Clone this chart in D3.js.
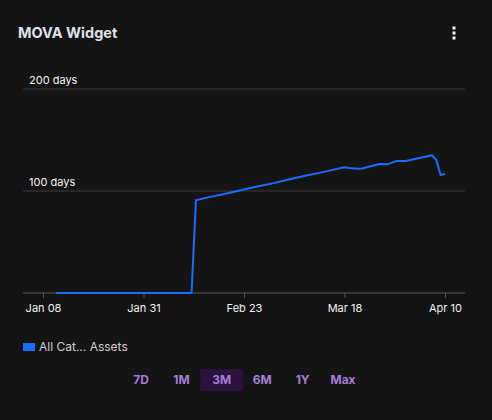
<!DOCTYPE html>
<html>
<head>
<meta charset="utf-8">
<script src="https://cdn.jsdelivr.net/npm/d3@7"></script>
<style>
  html, body { margin: 0; padding: 0; background: #141414; }
  body { width: 492px; height: 420px; overflow: hidden; font-family: Inter, "Noto Sans", sans-serif; }
</style>
</head>
<body>
<svg id="chart" width="492" height="420"></svg>
<script>
// series: "All Cat... Assets" (days)
const dates = [
  "2025-01-11", "2025-02-11", "2025-02-12", "2025-02-15", "2025-02-19", "2025-02-22",
  "2025-02-26", "2025-03-01", "2025-03-05", "2025-03-09", "2025-03-13", "2025-03-18",
  "2025-03-19", "2025-03-21", "2025-03-22", "2025-03-26", "2025-03-28", "2025-03-30",
  "2025-04-01", "2025-04-07", "2025-04-08", "2025-04-09", "2025-04-10"
];
const values = [
  0, 0, 91, 94, 97.5, 100.5,
  104.5, 107, 111, 115, 118.5, 123.2,
  122.5, 121.8, 122, 126.5, 126.3, 129.5,
  129.4, 135, 130.5, 115.7, 116.7
];
const xTicks = ["2025-01-08", "2025-01-31", "2025-02-23", "2025-03-18", "2025-04-10"];
const yTicks = [100, 200];
const ranges = ["7D", "1M", "3M", "6M", "1Y", "Max"];
const activeRange = "3M";
const seriesName = "All Cat... Assets";

const parse = d3.utcParse("%Y-%m-%d");
const data = dates.map((d, i) => ({ date: parse(d), value: values[i] }));

const svg = d3.select("#chart");

/* header */
svg.append("text")
  .attr("x", 18).attr("y", 38)
  .attr("fill", "#dde2ea")
  .attr("font-size", 14.5).attr("font-weight", 700)
  .text("MOVA Widget");

svg.append("g").selectAll("rect")
  .data([28, 33, 38])
  .join("rect")
  .attr("x", 452.5).attr("y", (d) => d - 1.5)
  .attr("width", 3).attr("height", 3)
  .attr("fill", "#f2f2f2");

/* scales */
const plotLeft = 23, plotRight = 465;
const x = d3.scaleUtc()
  .domain([parse(xTicks[0]), parse(xTicks[xTicks.length - 1])])
  .range([43, 445]);
const y = d3.scaleLinear().domain([0, 200]).range([293, 89]);

/* grid lines */
svg.append("g").selectAll("line")
  .data(yTicks)
  .join("line")
  .attr("x1", plotLeft).attr("x2", plotRight)
  .attr("y1", (d) => y(d)).attr("y2", (d) => y(d))
  .attr("stroke", "#383838").attr("stroke-width", 1);

svg.append("g").selectAll("text")
  .data(yTicks)
  .join("text")
  .attr("x", 29).attr("y", (d) => y(d) - 5.5)
  .attr("fill", "#f2f2f2")
  .attr("font-size", 11)
  .text((d) => d + " days");

/* x axis */
const xAxis = d3.axisBottom(x)
  .tickValues(xTicks.map(parse))
  .tickFormat(d3.utcFormat("%b %d"))
  .tickSize(5)
  .tickSizeOuter(0)
  .tickPadding(6);

const xAxisG = svg.append("g")
  .attr("transform", `translate(0, ${y(0)})`)
  .call(xAxis);
xAxisG.select(".domain").remove();
xAxisG.selectAll(".tick line").attr("stroke", "#555");
xAxisG.selectAll(".tick text")
  .attr("fill", "#f2f2f2")
  .attr("font-size", 11)
  .attr("font-family", "Inter, 'Noto Sans', sans-serif");

svg.append("line")
  .attr("x1", plotLeft).attr("x2", plotRight)
  .attr("y1", y(0)).attr("y2", y(0))
  .attr("stroke", "#555").attr("stroke-width", 1);

/* series line */
const line = d3.line()
  .x((d) => x(d.date))
  .y((d) => y(d.value));

svg.append("path")
  .datum(data)
  .attr("fill", "none")
  .attr("stroke", "#1a6dff")
  .attr("stroke-width", 2)
  .attr("stroke-linejoin", "round")
  .attr("d", line);

/* legend */
svg.append("rect")
  .attr("x", 23).attr("y", 343)
  .attr("width", 12).attr("height", 8)
  .attr("fill", "#1a6dff");
svg.append("text")
  .attr("x", 39).attr("y", 350.5)
  .attr("fill", "#d0d0d0")
  .attr("font-size", 12)
  .text(seriesName);

/* range buttons */
const btnCenters = d3.scalePoint()
  .domain(ranges)
  .range([141, 343]);

const btn = svg.append("g").selectAll("g")
  .data(ranges)
  .join("g")
  .attr("transform", (d) => `translate(${btnCenters(d)}, 380)`);

btn.filter((d) => d === activeRange)
  .append("rect")
  .attr("x", -21.5).attr("y", -11)
  .attr("width", 43).attr("height", 22)
  .attr("fill", "#2d1240");

btn.append("text")
  .attr("text-anchor", "middle")
  .attr("dy", "0.35em")
  .attr("fill", "#a47ed8")
  .attr("font-size", 12).attr("font-weight", 700)
  .text((d) => d);
</script>
</body>
</html>
